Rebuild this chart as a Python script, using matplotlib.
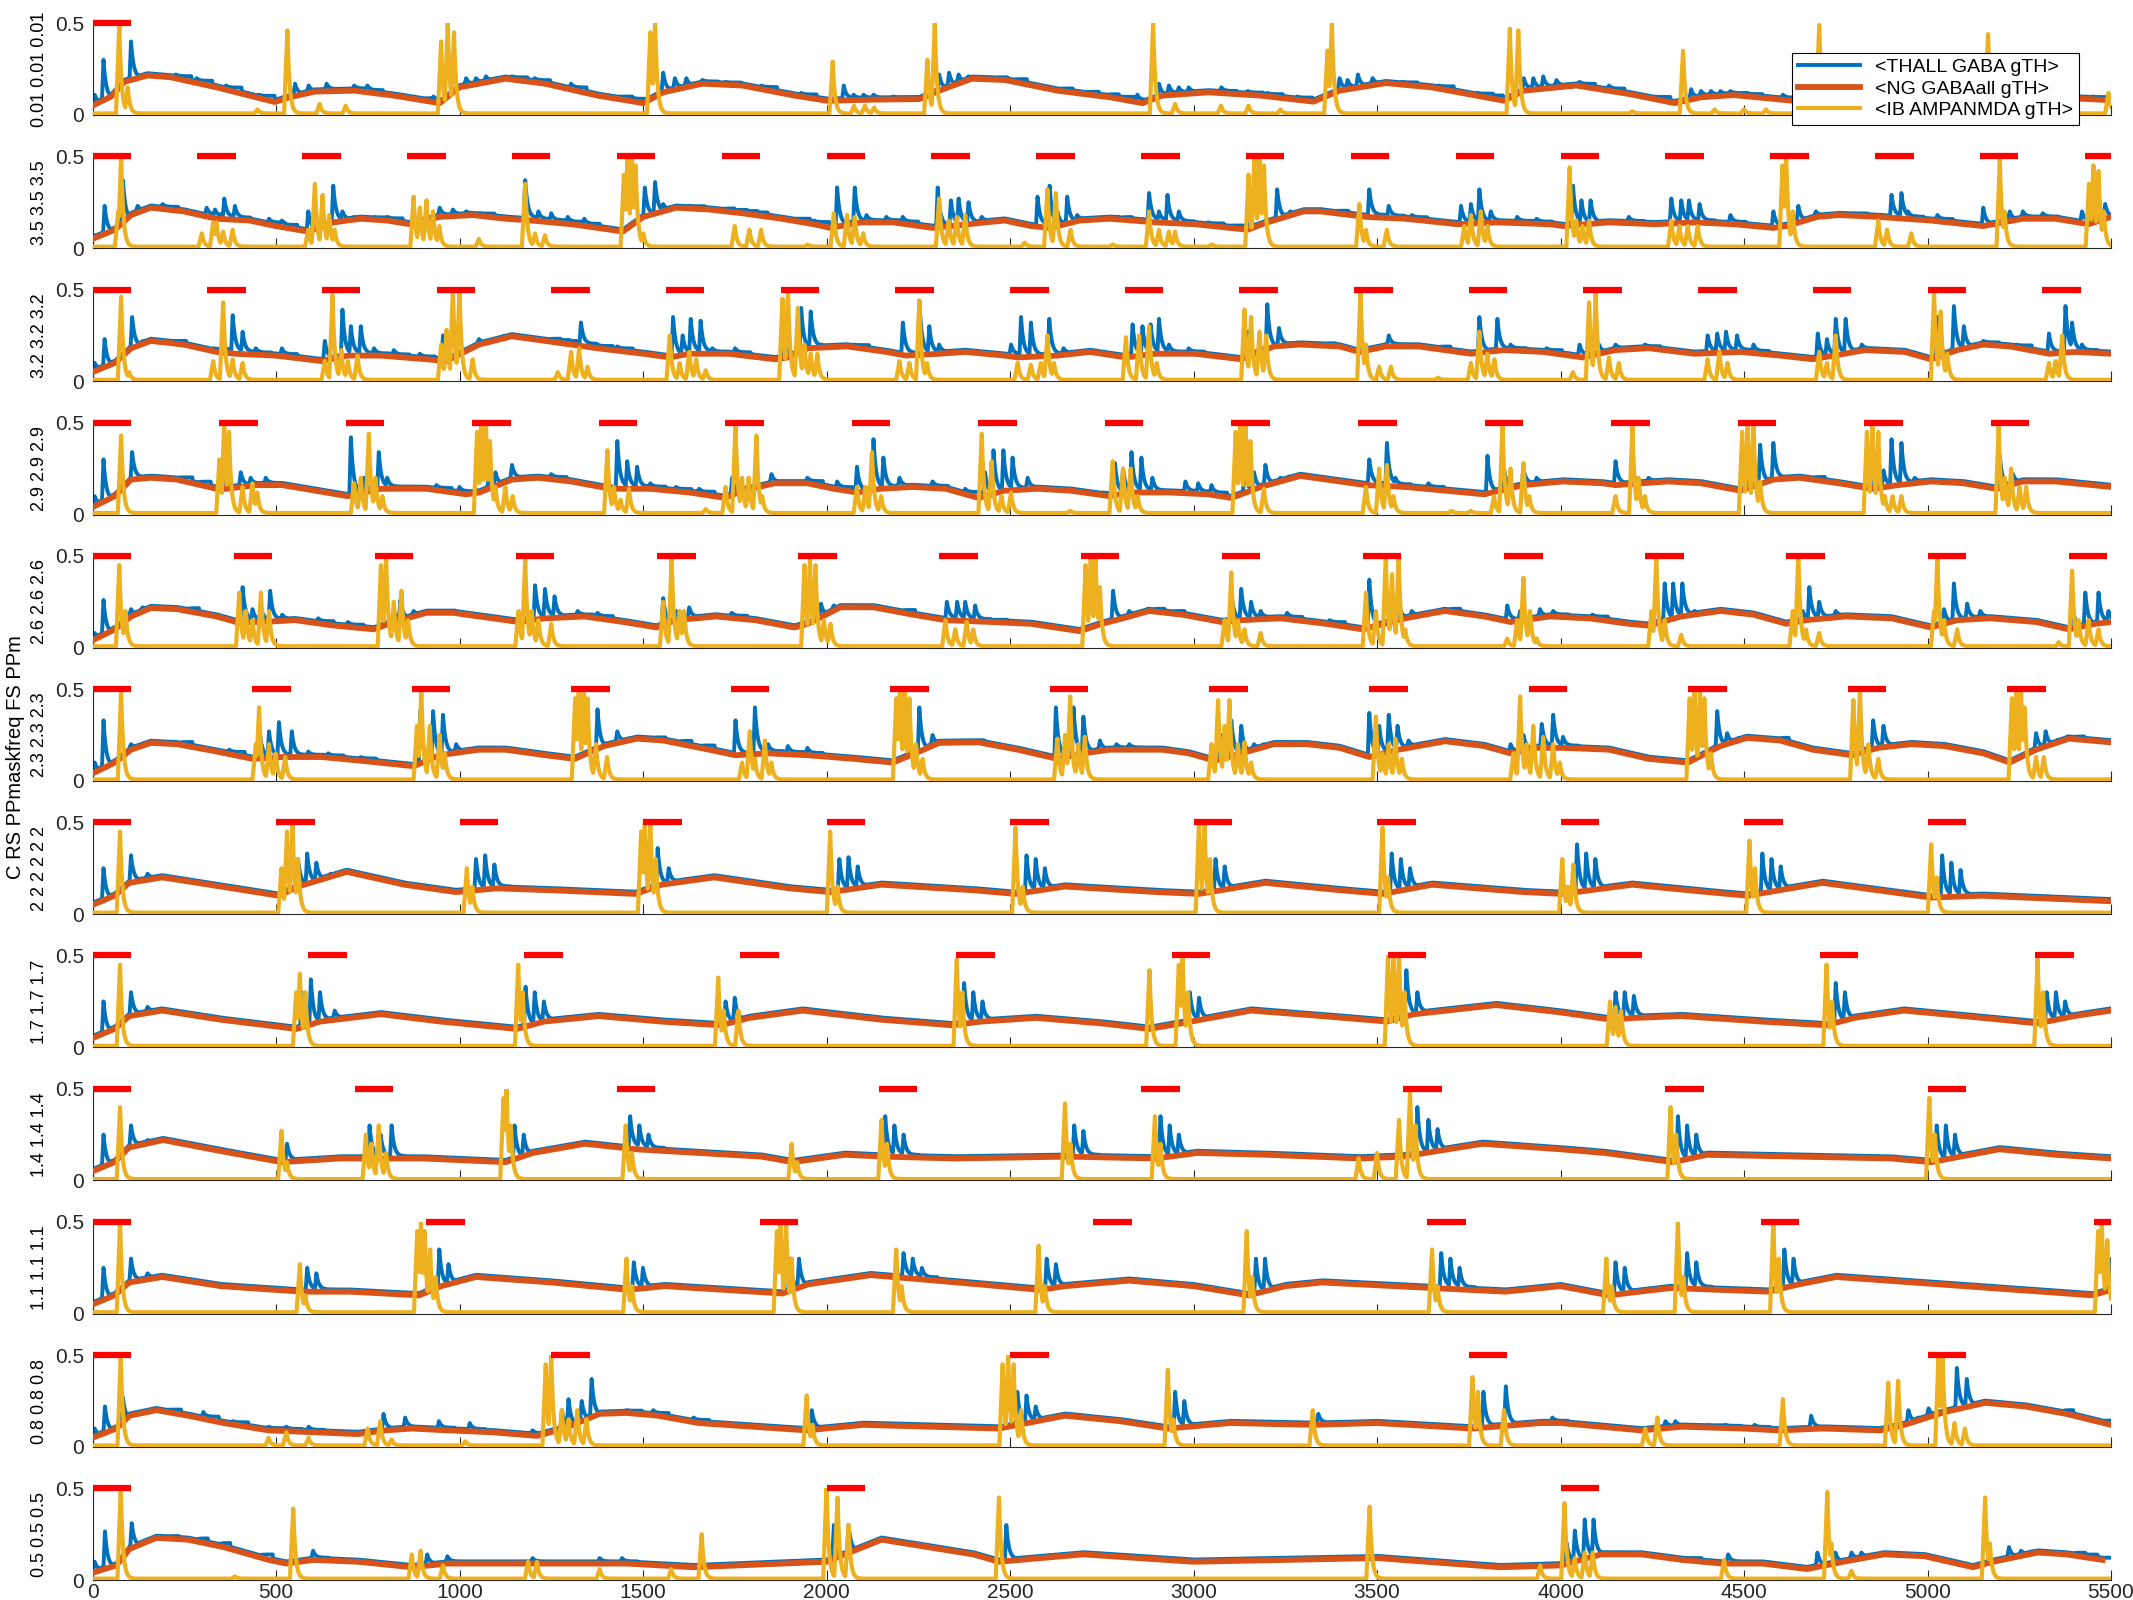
import numpy as np
import matplotlib.pyplot as plt

plt.rcParams['font.family'] = ['Liberation Sans', 'DejaVu Sans']

T_END = 5500
freqs = [0.01, 3.5, 3.2, 2.9, 2.6, 2.3, 2, 1.7, 1.4, 1.1, 0.8, 0.5]
mask_len = 105
names = ['<THALL GABA gTH>', '<NG GABAall gTH>', '<IB AMPANMDA gTH>']
c_th, c_ng, c_ib = '#0072BD', '#D95319', '#EDB120'

# NG GABAall (orange): (t, value)
ng_1 = [(0,.05),(51,.1),(87,.18),(150,.215),(213,.205),(338,.15),(497,.07),(535,.095),(606,.127),(713,.132),(821,.105),(946,.064),(1000,.15),(1125,.197),(1233,.17),(1376,.105),(1501,.064),(1555,.123),(1662,.17),(1770,.16),(1913,.105),(2002,.077),(2127,.083),(2253,.086),(2307,.132),(2396,.197),(2486,.19),(2629,.132),(2772,.096),(2861,.064),(2915,.105),(3040,.123),(3183,.105),(3327,.072),(3398,.132),(3524,.173),(3649,.15),(3846,.077),(3900,.132),(4043,.16),(4186,.114),(4311,.064),(4383,.096),(4472,.108),(4633,.077),(4700,.07),(4850,.12),(5000,.1),(5150,.07),(5250,.1),(5400,.09),(5500,.08)]
ng_2 = [(0,.05),(61,.1),(105,.18),(159,.22),(248,.2),(338,.16),(428,.15),(499,.12),(588,.09),(656,.14),(731,.16),(803,.15),(865,.13),(946,.17),(1036,.18),(1125,.16),(1197,.15),(1305,.13),(1412,.1),(1445,.09),(1501,.17),(1590,.22),(1680,.21),(1770,.19),(1877,.16),(1966,.13),(2010,.11),(2092,.14),(2181,.14),(2289,.11),(2342,.12),(2432,.14),(2485,.15),(2557,.12),(2609,.11),(2690,.15),(2772,.16),(2897,.14),(3004,.13),(3147,.1),(3201,.14),(3300,.2),(3345,.2),(3470,.17),(3577,.16),(3720,.13),(3828,.14),(3971,.13),(4007,.12),(4132,.14),(4257,.13),(4365,.14),(4472,.13),(4580,.11),(4615,.12),(4700,.17),(4759,.18),(4866,.17),(5009,.15),(5152,.12),(5260,.16),(5349,.16),(5439,.13),(5500,.17)]
ng_3 = [(0,.05),(61,.1),(105,.18),(159,.22),(248,.2),(338,.16),(391,.15),(499,.14),(624,.11),(696,.14),(785,.14),(910,.12),(964,.11),(1053,.2),(1143,.245),(1233,.22),(1376,.18),(1501,.15),(1573,.13),(1626,.15),(1733,.15),(1859,.12),(1895,.13),(1949,.18),(2056,.19),(2163,.16),(2217,.14),(2307,.15),(2378,.16),(2485,.14),(2521,.13),(2629,.14),(2718,.16),(2816,.13),(2897,.15),(3004,.15),(3130,.12),(3219,.19),(3291,.2),(3398,.19),(3452,.16),(3524,.19),(3613,.19),(3756,.15),(3846,.17),(3953,.16),(4061,.13),(4150,.17),(4240,.18),(4365,.15),(4490,.16),(4598,.14),(4687,.12),(4830,.17),(4938,.16),(5009,.12),(5081,.17),(5152,.2),(5224,.19),(5331,.15),(5403,.16),(5500,.15)]
ng_4 = [(0,.04),(61,.1),(105,.19),(159,.2),(230,.19),(338,.14),(364,.14),(445,.16),(517,.16),(606,.13),(695,.1),(785,.14),(910,.14),(1018,.11),(1054,.12),(1143,.19),(1214,.2),(1304,.18),(1411,.14),(1519,.14),(1626,.12),(1725,.09),(1770,.13),(1859,.17),(1948,.17),(2020,.14),(2083,.12),(2146,.14),(2235,.15),(2325,.14),(2414,.09),(2485,.13),(2575,.14),(2664,.13),(2772,.1),(2825,.12),(2933,.12),(3040,.11),(3103,.09),(3183,.15),(3291,.21),(3398,.18),(3470,.16),(3577,.15),(3685,.13),(3792,.11),(3899,.16),(4007,.18),(4114,.17),(4150,.16),(4293,.18),(4383,.17),(4490,.13),(4580,.19),(4651,.2),(4759,.17),(4848,.14),(4920,.16),(5009,.18),(5099,.17),(5188,.14),(5260,.18),(5349,.18),(5500,.15)]
ng_5 = [(0,.04),(61,.1),(105,.17),(159,.216),(230,.21),(338,.17),(391,.14),(463,.14),(552,.15),(660,.12),(767,.1),(821,.14),(910,.19),(982,.19),(1090,.16),(1161,.14),(1233,.16),(1340,.17),(1447,.14),(1537,.11),(1590,.15),(1698,.17),(1805,.15),(1913,.11),(1949,.13),(2038,.22),(2128,.22),(2235,.18),(2324,.15),(2450,.14),(2557,.13),(2690,.09),(2750,.13),(2808,.16),(2879,.2),(2969,.18),(3076,.14),(3130,.15),(3237,.16),(3362,.13),(3461,.1),(3577,.16),(3685,.2),(3792,.17),(3864,.14),(3971,.17),(4078,.16),(4186,.13),(4240,.12),(4329,.17),(4436,.2),(4526,.18),(4615,.13),(4669,.15),(4777,.17),(4902,.16),(5009,.11),(5081,.15),(5170,.16),(5296,.14),(5385,.1),(5457,.13),(5500,.14)]
ng_6 = [(0,.04),(61,.1),(105,.17),(159,.207),(230,.2),(338,.16),(436,.12),(517,.13),(624,.13),(731,.11),(875,.08),(946,.14),(1053,.17),(1125,.17),(1233,.14),(1314,.12),(1394,.19),(1484,.23),(1555,.22),(1680,.17),(1752,.14),(1841,.15),(1948,.14),(2074,.12),(2181,.1),(2253,.16),(2307,.207),(2414,.21),(2521,.17),(2629,.12),(2700,.15),(2772,.17),(2915,.17),(2987,.15),(3058,.11),(3130,.15),(3219,.2),(3309,.2),(3398,.18),(3479,.13),(3559,.17),(3685,.216),(3792,.19),(3864,.15),(3935,.18),(4007,.18),(4132,.17),(4240,.12),(4347,.1),(4436,.19),(4508,.234),(4598,.22),(4687,.17),(4794,.14),(4866,.18),(4956,.2),(5045,.19),(5152,.15),(5224,.1),(5296,.17),(5385,.23),(5500,.21)]
ng_7 = [(0,.05),(60,.1),(100,.17),(190,.2),(350,.15),(508,.1),(560,.15),(693,.23),(850,.16),(990,.12),(1100,.14),(1250,.13),(1480,.11),(1550,.16),(1694,.2),(1900,.14),(2010,.12),(2150,.16),(2400,.13),(2515,.11),(2650,.15),(2900,.12),(3015,.11),(3195,.17),(3400,.13),(3515,.11),(3650,.16),(3900,.12),(4005,.11),(4195,.16),(4400,.12),(4510,.1),(4714,.17),(4900,.12),(5010,.09),(5150,.1),(5500,.07)]
ng_8 = [(0,.05),(60,.1),(100,.17),(190,.2),(350,.15),(556,.1),(620,.14),(786,.18),(950,.14),(1156,.1),(1230,.14),(1379,.17),(1550,.14),(1712,.12),(1790,.16),(1935,.2),(2150,.15),(2342,.12),(2420,.14),(2570,.16),(2750,.13),(2880,.1),(2965,.13),(3157,.2),(3350,.17),(3528,.14),(3600,.18),(3825,.23),(4000,.19),(4140,.15),(4200,.16),(4330,.17),(4550,.14),(4725,.12),(4800,.16),(4936,.2),(5150,.16),(5300,.13),(5400,.17),(5500,.2)]
ng_9 = [(0,.05),(60,.1),(100,.18),(193,.22),(350,.16),(515,.1),(675,.12),(900,.12),(1126,.1),(1200,.15),(1342,.2),(1480,.17),(1823,.13),(1908,.1),(2050,.14),(2157,.13),(2350,.12),(2657,.13),(2898,.12),(3010,.15),(3200,.14),(3454,.12),(3570,.13),(3787,.2),(4000,.17),(4121,.15),(4306,.1),(4400,.14),(4900,.12),(5010,.1),(5196,.17),(5350,.14),(5500,.12)]
ng_10 = [(0,.05),(60,.1),(100,.17),(190,.2),(350,.15),(570,.12),(700,.12),(890,.1),(950,.15),(1045,.2),(1250,.17),(1460,.13),(1560,.15),(1880,.11),(1950,.16),(2120,.21),(2300,.18),(2583,.13),(2650,.15),(2824,.18),(3000,.15),(3150,.1),(3250,.15),(3350,.17),(3650,.14),(3850,.12),(4000,.15),(4132,.1),(4300,.14),(4566,.12),(4650,.16),(4751,.2),(5100,.15),(5450,.1),(5500,.13)]
ng_11 = [(0,.05),(65,.1),(101,.17),(174,.2),(260,.17),(357,.13),(480,.09),(601,.08),(723,.07),(797,.09),(870,.1),(967,.09),(1089,.08),(1211,.06),(1285,.1),(1382,.18),(1455,.185),(1541,.17),(1651,.13),(1946,.09),(2100,.12),(2470,.1),(2650,.17),(2800,.14),(2930,.1),(3100,.13),(3325,.12),(3500,.13),(3760,.1),(3945,.13),(4000,.13),(4220,.09),(4331,.11),(4496,.1),(4595,.09),(4716,.1),(4871,.09),(4937,.12),(5047,.19),(5157,.24),(5267,.22),(5378,.18),(5500,.12)]
ng_12 = [(0,.04),(65,.08),(101,.17),(174,.23),(260,.22),(357,.18),(480,.11),(528,.09),(601,.11),(723,.1),(870,.07),(967,.09),(1211,.09),(1455,.09),(1638,.07),(2000,.1),(2150,.22),(2400,.14),(2470,.1),(2700,.14),(3000,.1),(3500,.12),(3835,.07),(4000,.08),(4110,.14),(4220,.14),(4331,.11),(4441,.09),(4551,.09),(4672,.06),(4771,.1),(4881,.14),(4992,.13),(5124,.07),(5179,.1),(5300,.15),(5378,.14),(5477,.11)]

# THALL GABA (blue): (t, peak) of each visible spike
th_1 = [(6,.11),(30,.3),(105,.4),(227,.22),(284,.2),(364,.16),(454,.11),(552,.17),(589,.16),(638,.17),(713,.16),(749,.16),(901,.09),(929,.1),(1018,.2),(1045,.2),(1072,.21),(1143,.21),(1205,.2),(1304,.17),(1429,.1),(1465,.1),(1555,.23),(1587,.2),(1618,.2),(1662,.19),(1725,.18),(1823,.16),(1931,.12),(2047,.16),(2074,.11),(2101,.11),(2128,.11),(2181,.1),(2307,.22),(2334,.23),(2360,.22),(2387,.21),(2450,.2),(2504,.19),(2629,.14),(2700,.12),(2754,.1),(2799,.1),(2847,.11),(2906,.17),(2933,.16),(2960,.15),(2987,.15),(3076,.15),(3148,.13),(3201,.12),(3282,.1),(3398,.2),(3420,.19),(3448,.22),(3488,.2),(3568,.18),(3667,.16),(3774,.12),(3801,.11),(3900,.2),(3926,.2),(3953,.21),(3989,.19),(4052,.18),(4132,.16),(4257,.1),(4356,.14),(4383,.13),(4410,.13),(4436,.13),(4463,.13),(4508,.12),(4606,.11),(4760,.15),(4790,.14),(4850,.15),(4950,.12),(5200,.1),(5230,.11),(5350,.11),(5450,.1)]
th_2 = [(6,.07),(33,.23),(83,.37),(123,.23),(191,.24),(311,.22),(334,.21),(359,.27),(388,.23),(481,.16),(516,.15),(588,.2),(656,.34),(681,.2),(713,.17),(767,.17),(803,.17),(875,.18),(946,.22),(982,.21),(1018,.2),(1053,.19),(1179,.37),(1215,.2),(1250,.19),(1295,.17),(1340,.16),(1505,.33),(1533,.36),(1555,.24),(1626,.23),(1707,.2),(1742,.2),(1770,.2),(1797,.19),(1913,.16),(1966,.15),(2029,.33),(2077,.33),(2109,.18),(2163,.17),(2208,.17),(2303,.33),(2339,.26),(2360,.27),(2387,.25),(2423,.17),(2575,.28),(2608,.34),(2629,.2),(2656,.28),(2683,.18),(2754,.16),(2790,.15),(2879,.3),(2906,.2),(2929,.29),(2960,.2),(3040,.14),(3094,.12),(3156,.15),(3228,.32),(3264,.2),(3309,.21),(3380,.2),(3479,.32),(3532,.23),(3595,.18),(3729,.23),(3756,.24),(3779,.32),(3810,.2),(3882,.17),(3935,.16),(4034,.34),(4057,.26),(4082,.26),(4186,.17),(4302,.27),(4329,.26),(4350,.26),(4379,.24),(4463,.18),(4580,.2),(4648,.23),(4696,.2),(4794,.19),(4902,.29),(4929,.3),(4947,.2),(5027,.18),(5152,.22),(5224,.2),(5260,.2),(5314,.19),(5421,.2),(5457,.33),(5484,.24)]
th_3 = [(6,.1),(33,.23),(108,.35),(140,.22),(213,.22),(329,.18),(382,.36),(409,.27),(445,.18),(516,.18),(633,.22),(681,.39),(704,.3),(731,.3),(767,.18),(821,.17),(892,.15),(955,.25),(1053,.23),(1125,.24),(1233,.22),(1259,.22),(1277,.21),(1331,.32),(1376,.2),(1430,.19),(1582,.35),(1608,.25),(1630,.34),(1657,.33),(1689,.18),(1751,.18),(1886,.25),(1931,.4),(1957,.38),(1984,.2),(2020,.18),(2074,.2),(2208,.32),(2253,.44),(2280,.3),(2307,.2),(2503,.2),(2530,.35),(2557,.32),(2607,.34),(2646,.18),(2834,.31),(2861,.3),(2883,.31),(2906,.34),(2933,.2),(2987,.18),(3148,.27),(3201,.42),(3233,.29),(3273,.2),(3345,.2),(3452,.2),(3532,.25),(3568,.2),(3658,.18),(3779,.35),(3828,.34),(3864,.2),(3962,.18),(4052,.2),(4105,.2),(4150,.2),(4230,.2),(4401,.25),(4427,.26),(4451,.27),(4481,.25),(4526,.2),(4701,.26),(4726,.23),(4750,.34),(4777,.34),(4821,.2),(5027,.35),(5072,.41),(5099,.3),(5152,.22),(5242,.2),(5331,.26),(5376,.41),(5394,.32),(5421,.2)]
th_4 = [(6,.1),(30,.3),(108,.34),(130,.2),(230,.2),(280,.17),(359,.2),(404,.23),(431,.2),(472,.2),(704,.42),(740,.2),(780,.34),(803,.2),(937,.16),(1000,.15),(1080,.2),(1098,.23),(1143,.27),(1250,.22),(1430,.4),(1457,.29),(1484,.26),(1520,.17),(1590,.15),(1653,.14),(1743,.2),(1850,.22),(1948,.2),(2029,.18),(2083,.26),(2128,.41),(2155,.31),(2199,.2),(2289,.18),(2378,.14),(2432,.23),(2455,.35),(2482,.35),(2507,.31),(2548,.2),(2754,.12),(2786,.28),(2808,.25),(2831,.34),(2858,.31),(2888,.2),(2978,.18),(3013,.17),(3049,.16),(3139,.25),(3165,.23),(3196,.27),(3237,.2),(3264,.2),(3479,.3),(3527,.39),(3550,.2),(3640,.17),(3801,.32),(3846,.25),(3899,.25),(3935,.2),(4150,.29),(4195,.25),(4240,.2),(4508,.2),(4544,.38),(4580,.39),(4615,.2),(4678,.19),(4857,.25),(4880,.24),(4902,.41),(4929,.39),(4965,.2),(5197,.32),(5233,.22),(5296,.19)]
th_5 = [(6,.08),(30,.26),(105,.21),(137,.22),(248,.2),(409,.33),(436,.21),(459,.22),(484,.31),(517,.18),(615,.16),(696,.14),(821,.2),(839,.26),(875,.2),(946,.2),(1206,.34),(1233,.32),(1259,.28),(1322,.2),(1376,.19),(1555,.27),(1590,.2),(1626,.22),(1742,.19),(1985,.24),(2020,.23),(2083,.22),(2199,.2),(2328,.25),(2356,.25),(2378,.25),(2405,.23),(2450,.15),(2781,.31),(2825,.2),(2879,.2),(2933,.19),(3103,.3),(3130,.32),(3157,.25),(3183,.2),(3255,.19),(3371,.15),(3479,.37),(3559,.25),(3595,.2),(3685,.2),(3855,.23),(3890,.2),(3944,.21),(3980,.2),(4087,.18),(4284,.35),(4307,.35),(4332,.35),(4365,.2),(4660,.2),(4678,.33),(4705,.25),(4750,.2),(5045,.21),(5072,.35),(5108,.24),(5144,.2),(5394,.25),(5430,.3),(5466,.3),(5493,.2)]
th_6 = [(6,.1),(30,.33),(105,.2),(230,.2),(373,.17),(454,.3),(481,.27),(508,.32),(543,.27),(588,.16),(642,.15),(731,.13),(893,.38),(928,.38),(955,.36),(991,.2),(1054,.18),(1376,.39),(1430,.27),(1519,.23),(1590,.21),(1653,.19),(1752,.33),(1805,.4),(1841,.2),(1895,.19),(1948,.18),(2253,.4),(2289,.25),(2325,.22),(2387,.21),(2625,.4),(2673,.4),(2700,.35),(2745,.22),(2790,.2),(2825,.2),(3076,.25),(3103,.33),(3130,.3),(3165,.2),(3192,.2),(3479,.37),(3506,.3),(3532,.36),(3556,.3),(3586,.22),(3864,.2),(3899,.25),(3949,.31),(3980,.36),(4007,.24),(4427,.38),(4454,.26),(4490,.23),(4580,.2),(4812,.27),(4852,.33),(4880,.3),(4920,.2),(5296,.26),(5322,.27),(5358,.22),(5385,.22)]
th_7 = [(30,.25),(105,.32),(150,.22),(560,.3),(585,.33),(610,.28),(650,.22),(1045,.3),(1070,.32),(1095,.27),(1540,.36),(1570,.25),(2035,.3),(2060,.31),(2085,.26),(2545,.32),(2570,.3),(2595,.25),(3060,.3),(3085,.26),(3540,.33),(3565,.3),(3590,.25),(4045,.38),(4070,.33),(4095,.3),(4550,.33),(4575,.3),(4600,.26),(5040,.32),(5065,.28),(5090,.24)]
th_8 = [(30,.25),(105,.3),(150,.22),(570,.3),(595,.37),(620,.3),(660,.2),(1180,.33),(1205,.3),(1230,.25),(1725,.25),(1750,.27),(2375,.35),(2400,.3),(2425,.25),(2990,.3),(3015,.27),(3580,.42),(3610,.3),(4150,.3),(4175,.3),(4200,.28),(4750,.35),(4775,.3),(5325,.3),(5350,.3),(5375,.25)]
th_9 = [(30,.25),(105,.3),(150,.22),(530,.2),(755,.3),(785,.25),(815,.3),(1150,.3),(1175,.25),(1465,.35),(1490,.3),(1515,.25),(2160,.35),(2185,.3),(2210,.25),(2675,.3),(2700,.27),(2910,.35),(2935,.3),(2960,.25),(3610,.4),(3640,.33),(3665,.28),(4320,.35),(4345,.3),(4370,.25),(5025,.3),(5050,.3),(5075,.25)]
th_10 = [(30,.25),(105,.3),(150,.22),(585,.25),(610,.22),(915,.3),(945,.35),(970,.27),(1475,.28),(1500,.25),(1900,.3),(1925,.3),(2210,.33),(2235,.3),(2260,.25),(2600,.3),(2625,.27),(3170,.3),(3195,.3),(3675,.33),(3700,.3),(3725,.25),(4150,.28),(4175,.25),(4345,.33),(4370,.28),(4610,.35),(4635,.3),(5495,.3)]
th_11 = [(6,.1),(34,.22),(83,.27),(199,.2),(302,.19),(382,.14),(480,.11),(528,.11),(589,.11),(793,.18),(852,.16),(944,.14),(1028,.13),(1199,.09),(1279,.2),(1297,.26),(1333,.25),(1360,.37),(1455,.2),(1528,.2),(1638,.16),(1960,.2),(2520,.3),(2545,.28),(2570,.22),(2950,.3),(2975,.25),(3340,.18),(3790,.3),(3851,.33),(3978,.16),(4215,.1),(4286,.14),(4313,.14),(4402,.12),(4450,.12),(4529,.12),(4683,.17),(4948,.2),(4975,.16),(5003,.21),(5080,.43),(5107,.37),(5355,.17),(5476,.14)]
th_12 = [(6,.1),(34,.265),(107,.31),(193,.23),(272,.2),(333,.17),(449,.13),(601,.16),(912,.14),(967,.13),(1199,.12),(1382,.12),(1443,.12),(2020,.3),(2060,.3),(2490,.3),(3994,.09),(4017,.2),(4039,.27),(4066,.33),(4090,.33),(4342,.12),(4457,.14),(4700,.15),(4749,.15),(4793,.15),(4820,.15),(5222,.18),(5255,.16),(5288,.15),(5388,.14),(5421,.14)]

# IB AMPANMDA (yellow): (t, peak) of each visible spike
ib_1 = [(73,.49),(96,.15),(450,.03),(531,.46),(619,.06),(690,.05),(950,.4),(968,.5),(985,.45),(1520,.45),(1533,.5),(2017,.29),(2075,.05),(2105,.05),(2130,.04),(2275,.3),(2295,.5),(2890,.5),(2950,.06),(3075,.05),(3150,.05),(3237,.03),(3365,.35),(3377,.5),(3862,.47),(3885,.46),(4196,.02),(4334,.35),(4420,.03),(4500,.03),(4560,.03),(4705,.49),(5165,.44),(5493,.12)]
ib_2 = [(70,.2),(78,.5),(298,.08),(329,.14),(338,.14),(356,.09),(382,.1),(588,.1),(606,.35),(627,.29),(645,.18),(660,.1),(875,.28),(892,.22),(910,.26),(928,.2),(945,.12),(1053,.05),(1179,.35),(1206,.08),(1233,.07),(1448,.4),(1458,.5),(1470,.5),(1480,.45),(1501,.08),(1750,.12),(1790,.1),(1822,.1),(1949,.02),(2020,.19),(2056,.18),(2077,.17),(2100,.08),(2307,.27),(2333,.15),(2355,.17),(2378,.18),(2540,.03),(2602,.32),(2625,.3),(2665,.1),(2780,.02),(2879,.2),(2906,.1),(2933,.09),(2950,.09),(3050,.02),(3150,.4),(3166,.5),(3180,.5),(3192,.45),(3452,.24),(3470,.1),(3527,.1),(3738,.12),(3756,.18),(3783,.2),(3801,.12),(4025,.44),(4043,.15),(4060,.12),(4078,.15),(4302,.15),(4324,.12),(4347,.12),(4374,.12),(4605,.45),(4615,.5),(4633,.2),(4866,.15),(4890,.1),(4956,.08),(5197,.48),(5210,.2),(5440,.35),(5452,.45),(5466,.42),(5480,.2)]
ib_3 = [(78,.46),(100,.05),(329,.11),(356,.43),(382,.12),(409,.1),(633,.11),(654,.47),(678,.17),(696,.11),(722,.14),(950,.2),(965,.28),(982,.5),(1000,.5),(1036,.12),(1268,.05),(1304,.16),(1326,.18),(1349,.08),(1573,.25),(1600,.1),(1626,.16),(1645,.12),(1671,.06),(1880,.45),(1895,.5),(1922,.4),(1940,.2),(1957,.15),(1975,.15),(2199,.11),(2226,.1),(2253,.44),(2274,.1),(2521,.1),(2557,.09),(2584,.1),(2602,.25),(2620,.1),(2816,.24),(2852,.25),(2879,.3),(2900,.1),(3139,.39),(3157,.35),(3180,.27),(3198,.25),(3455,.49),(3470,.2),(3506,.08),(3538,.08),(3667,.02),(3756,.1),(3779,.27),(3801,.15),(3820,.12),(4034,.05),(4078,.43),(4096,.48),(4132,.13),(4159,.1),(4401,.12),(4433,.16),(4455,.1),(4705,.16),(4726,.1),(4750,.25),(5018,.48),(5036,.38),(5054,.15),(5331,.1),(5349,.11),(5367,.25)]
ib_4 = [(78,.43),(346,.3),(359,.5),(372,.45),(409,.15),(436,.17),(449,.12),(713,.17),(731,.2),(753,.44),(771,.2),(790,.1),(1048,.45),(1060,.5),(1072,.5),(1083,.4),(1098,.15),(1125,.15),(1145,.1),(1403,.35),(1421,.15),(1439,.08),(1462,.14),(1671,.03),(1725,.15),(1752,.49),(1770,.2),(1788,.2),(1809,.43),(1825,.1),(2083,.15),(2106,.15),(2124,.34),(2149,.1),(2423,.44),(2450,.29),(2477,.1),(2503,.12),(2664,.02),(2780,.29),(2808,.25),(2829,.25),(2848,.1),(3115,.45),(3128,.5),(3142,.5),(3155,.4),(3192,.14),(3470,.15),(3506,.25),(3527,.27),(3545,.1),(3703,.02),(3756,.02),(3819,.1),(3842,.49),(3864,.25),(3899,.28),(3915,.1),(4150,.1),(4196,.48),(4213,.2),(4230,.1),(4495,.45),(4510,.5),(4526,.5),(4544,.18),(4835,.45),(4850,.5),(4866,.45),(4884,.1),(4905,.1),(4929,.1),(5194,.48),(5211,.2),(5228,.25),(5251,.15),(5269,.15)]
ib_5 = [(73,.45),(90,.2),(400,.3),(418,.2),(436,.15),(459,.3),(481,.2),(786,.45),(800,.5),(821,.25),(842,.31),(860,.15),(1161,.2),(1179,.48),(1197,.2),(1215,.15),(1250,.13),(1555,.25),(1578,.49),(1600,.2),(1612,.2),(1940,.45),(1955,.48),(1970,.45),(1993,.15),(2011,.13),(2324,.15),(2351,.1),(2382,.14),(2400,.1),(2706,.45),(2720,.5),(2733,.5),(2745,.33),(3085,.15),(3103,.41),(3121,.15),(3139,.1),(3183,.08),(3470,.3),(3497,.2),(3524,.5),(3541,.4),(3559,.5),(3577,.1),(3855,.05),(3882,.15),(3899,.38),(3917,.2),(3935,.05),(4248,.2),(4261,.5),(4284,.15),(4329,.07),(4633,.2),(4648,.5),(4669,.1),(4705,.08),(5018,.2),(5027,.5),(5045,.15),(5081,.1),(5358,.03),(5394,.42),(5412,.15),(5439,.15),(5466,.1)]
ib_6 = [(78,.49),(445,.2),(454,.4),(481,.2),(499,.15),(525,.13),(884,.3),(896,.5),(919,.3),(946,.25),(960,.15),(1315,.45),(1325,.5),(1338,.5),(1349,.45),(1372,.2),(1402,.13),(1770,.1),(1791,.27),(1805,.12),(1832,.22),(1850,.1),(2190,.45),(2200,.5),(2213,.5),(2226,.45),(2244,.2),(2262,.12),(2629,.23),(2650,.25),(2664,.46),(2686,.2),(2704,.24),(3049,.2),(3067,.44),(3085,.3),(3098,.44),(3121,.2),(3139,.21),(3157,.1),(3497,.35),(3515,.15),(3532,.2),(3550,.23),(3568,.12),(3872,.15),(3890,.46),(3908,.2),(3926,.3),(3953,.24),(3980,.2),(3998,.1),(4352,.45),(4365,.5),(4380,.5),(4392,.45),(4410,.15),(4798,.44),(4816,.5),(4839,.2),(4866,.12),(5230,.45),(5242,.5),(5255,.5),(5265,.4),(5296,.13),(5317,.13)]
ib_7 = [(75,.45),(515,.25),(530,.45),(545,.5),(560,.3),(1020,.25),(1035,.15),(1495,.45),(1505,.5),(1520,.5),(1535,.3),(2010,.45),(2030,.15),(2515,.47),(2535,.15),(3015,.5),(3030,.5),(3045,.3),(3515,.47),(3530,.2),(4005,.3),(4020,.15),(4035,.27),(4515,.4),(4530,.25),(5010,.38),(5025,.2)]
ib_8 = [(75,.45),(555,.3),(565,.4),(580,.3),(1160,.45),(1172,.3),(1705,.38),(1720,.2),(1760,.2),(2355,.48),(2370,.3),(2880,.42),(2960,.45),(2970,.5),(2985,.3),(3530,.5),(3545,.5),(3560,.5),(3575,.3),(4135,.25),(4150,.22),(4165,.2),(4725,.45),(4740,.25),(5300,.48),(5315,.3)]
ib_9 = [(75,.4),(515,.27),(530,.1),(745,.25),(760,.2),(780,.3),(800,.15),(1120,.45),(1128,.5),(1140,.3),(1453,.3),(1470,.15),(1905,.2),(1920,.1),(2150,.33),(2165,.2),(2650,.42),(2665,.2),(2895,.35),(2910,.2),(3450,.12),(3500,.15),(3560,.33),(3590,.48),(3605,.3),(4300,.4),(4315,.25),(5005,.45),(5020,.25)]
ib_10 = [(75,.5),(565,.27),(580,.1),(885,.45),(895,.5),(905,.45),(920,.35),(935,.2),(1455,.3),(1470,.15),(1865,.45),(1875,.5),(1890,.5),(1905,.3),(2190,.35),(2205,.15),(2578,.37),(2595,.15),(3145,.45),(3160,.2),(3650,.35),(3665,.15),(4125,.3),(4140,.15),(4320,.5),(4335,.2),(4580,.5),(4595,.3),(5465,.45),(5475,.5),(5490,.4)]
ib_11 = [(77,.5),(480,.05),(528,.08),(589,.05),(750,.1),(784,.14),(815,.04),(1016,.03),(1235,.45),(1250,.5),(1279,.2),(1297,.15),(1321,.2),(1346,.15),(1946,.28),(1962,.12),(2480,.45),(2495,.5),(2510,.45),(2530,.2),(2930,.42),(2945,.15),(3325,.2),(3760,.38),(3775,.3),(3846,.2),(4231,.1),(4264,.16),(4606,.26),(4893,.35),(4920,.36),(5030,.5),(5041,.5),(5074,.13),(5102,.1)]
ib_12 = [(77,.5),(388,.02),(547,.39),(870,.14),(894,.16),(955,.08),(1187,.1),(1211,.1),(1382,.06),(1577,.06),(1660,.25),(2000,.5),(2030,.45),(2060,.3),(2470,.45),(3480,.4),(3945,.08),(4011,.42),(4039,.12),(4066,.15),(4088,.15),(4446,.11),(4727,.48),(4738,.2),(4793,.05),(5157,.45),(5170,.2)]

ng = [ng_1, ng_2, ng_3, ng_4, ng_5, ng_6, ng_7, ng_8, ng_9, ng_10, ng_11, ng_12]
th = [th_1, th_2, th_3, th_4, th_5, th_6, th_7, th_8, th_9, th_10, th_11, th_12]
ib = [ib_1, ib_2, ib_3, ib_4, ib_5, ib_6, ib_7, ib_8, ib_9, ib_10, ib_11, ib_12]

t = np.arange(0, T_END + 1, 1.0)


def add_spikes(base, peaks, rise, fall):
    # sharp rise, exponential fall back to the base line
    y = base.copy()
    for t0, h in peaks:
        b = np.interp(t0, t, base)
        up = (t >= t0 - rise) & (t <= t0)
        y[up] = np.maximum(y[up], b + (h - b) * (t[up] - t0 + rise) / rise)
        dn = (t > t0) & (t <= t0 + 6 * fall)
        y[dn] = np.maximum(y[dn], b + (h - b) * np.exp(-(t[dn] - t0) / fall))
    return y


fig = plt.figure(figsize=(21.33, 16), dpi=100)
left, width = 92.5 / 2133, 2018.5 / 2133
h_px = 91.8
axes = []
for i in range(12):
    top_px = 23.1 + 133.2 * i
    ax = fig.add_axes([left, 1 - (top_px + h_px) / 1600, width, h_px / 1600])
    axes.append(ax)

    kt = np.array([p[0] for p in ng[i]], float)
    kv = np.array([p[1] for p in ng[i]], float)
    ng_line = np.interp(t, kt, kv)
    th_line = add_spikes(ng_line + 0.012, th[i], 4, 7)
    ib_line = add_spikes(np.full_like(t, 0.008), ib[i], 9, 6)

    ax.plot(t, th_line, color=c_th, lw=2.8, label=names[0], zorder=2)
    ax.plot(kt, kv, color=c_ng, lw=4.2, label=names[1], zorder=3)
    ax.plot(t, ib_line, color=c_ib, lw=3.0, label=names[2], zorder=4)

    for on in np.arange(0, T_END, 1000 / freqs[i]):
        ax.plot([on, min(on + mask_len, T_END)], [0.5, 0.5], color='red', lw=4.5,
                solid_capstyle='butt', clip_on=False, zorder=6)

    ax.set_xlim(0, T_END)
    ax.set_ylim(0, 0.5)
    ax.set_yticks([0, 0.5])
    ax.set_yticklabels(['0', '0.5'])
    ax.set_xticks(np.arange(0, T_END + 1, 500))
    if i < 11:
        ax.set_xticklabels([])
    ax.tick_params(axis='x', direction='in', length=7, width=0.8, labelsize=15,
                   colors='#262626', pad=2)
    ax.tick_params(axis='y', direction='in', length=3, width=0.8, labelsize=15,
                   colors='#262626', pad=6)
    for s in ['top', 'right']:
        ax.spines[s].set_visible(False)
    for s in ['left', 'bottom']:
        ax.spines[s].set_linewidth(0.8)
        ax.spines[s].set_color('#262626')

    # per-panel label: the mask frequency, repeated (the labels overlap)
    f = f'{freqs[i]:g}'
    reps = max(2, int(round(13 / (len(f) + 1))))
    fig.text(0.0185, 1 - (top_px + h_px / 2) / 1600, ' '.join([f] * reps),
             rotation=90, ha='center', va='center', fontsize=13)

fig.text(0.0075, 0.527, 'C RS PPmaskfreq FS PPm', rotation=90, ha='center',
         va='center', fontsize=14.5)

leg = axes[0].legend(loc='upper right', bbox_to_anchor=(2089 / 2133, 1 - 43 / 1600),
                     bbox_transform=fig.transFigure, fontsize=14, fancybox=False,
                     edgecolor='black', framealpha=1, handlelength=3.2,
                     labelspacing=0.2, borderpad=0.3, handletextpad=0.8)
leg.get_frame().set_linewidth(0.8)
leg.set_zorder(10)

fig.savefig('out.png', dpi=100)
